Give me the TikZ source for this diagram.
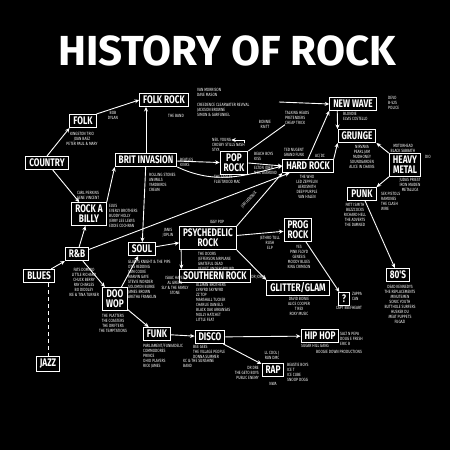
\documentclass[tikz,border=0pt]{standalone}
\usepackage{fontspec}
\newfontfamily\hand[FakeStretch=0.75]{Fira Sans}
\newfontfamily\handwide{Fira Sans}
\usetikzlibrary{arrows.meta}

\begin{document}
\begin{tikzpicture}[x=1pt,y=-1pt,
   genre/.style={draw=white,line width=1pt,fill=black,text=white,align=center,
      inner xsep=3.5pt,inner ysep=2.5pt,font=\hand\bfseries\fontsize{11}{10}\selectfont},
   bands/.style={text=white,inner sep=0pt,align=left,
      font=\hand\fontsize{4.6}{5}\selectfont},
   cbands/.style={bands,align=center},
   rbands/.style={bands,align=right},
   link/.style={draw=white,line width=0.9pt},
   arrow/.style={link,-{Stealth[length=4.5pt,width=4pt]}},
   dashlink/.style={link,dash pattern=on 4pt off 3pt}
]
   \fill[black] (0,0) rectangle (450,450);
   \useasboundingbox (0,0) rectangle (450,450);

   \node[text=white,font=\handwide\bfseries\fontsize{42}{42}\selectfont] (title) at (227,51) {HISTORY OF ROCK};

   % genres
   \node[genre] (folk) at (83,121) {FOLK};
   \node[genre] (folkrock) at (164,100) {FOLK ROCK};
   \node[genre] (newwave) at (353,104) {NEW WAVE};
   \node[genre] (country) at (47,163) {COUNTRY};
   \node[genre] (brit) at (146,160) {BRIT INVASION};
   \node[genre] (poprock) at (234,163) {POP\\ROCK};
   \node[genre] (grunge) at (357,136) {GRUNGE};
   \node[genre] (metal) at (405,165) {HEAVY\\METAL};
   \node[genre] (hardrock) at (308,166) {HARD ROCK};
   \node[genre] (rockabilly) at (89,214) {ROCK A\\BILLY};
   \node[genre] (rnb) at (77,254) {R\&B};
   \node[genre] (blues) at (39,276) {BLUES};
   \node[genre] (soul) at (142,249) {SOUL};
   \node[genre] (doowop) at (115,299) {DOO\\WOP};
   \node[genre] (psych) at (208,238) {PSYCHEDELIC\\ROCK};
   \node[genre] (southern) at (215,276) {SOUTHERN ROCK};
   \node[genre] (prog) at (298,230) {PROG\\ROCK};
   \node[genre] (glam) at (298,288) {GLITTER/GLAM};
   \node[genre] (punk) at (362,194) {PUNK};
   \node[genre] (eighties) at (398,275) {80'S};
   \node[genre] (mystery) at (344,299) {?};
   \node[genre] (jazz) at (48,364) {JAZZ};
   \node[genre] (funk) at (157,334) {FUNK};
   \node[genre] (disco) at (210,337) {DISCO};
   \node[genre] (rap) at (273,370) {RAP};
   \node[genre] (hiphop) at (320,336) {HIP HOP};

   % bands
   \node[cbands,anchor=north] (folkb) at (82,132) {KINGSTON TRIO\\JOAN BAEZ\\PETER PAUL \& MARY};
   \node[cbands] (dylan) at (113,115) {BOB\\DYLAN};
   \node[bands,anchor=west] (folkrockr) at (197,92) {VAN MORRISON\\DAVE MASON};
   \node[bands,anchor=north west] (folkrockb) at (197,103) {CREEDENCE CLEARWATER REVIVAL\\JACKSON BROWNE\\SIMON \& GARFUNKEL};
   \node[bands] (theband) at (176,116) {THE BAND};
   \node[bands,anchor=west] (newwaver) at (388,103) {DEVO\\B-52S\\POLICE};
   \node[bands,anchor=north west] (newwaveb) at (343,112) {BLONDIE\\ELVIS COSTELLO};
   \node[bands,anchor=north west] (talking) at (285,111) {TALKING HEADS\\PRETENDERS\\CHEAP TRICK};
   \node[cbands] (raitt) at (265,124) {BONNIE\\RAITT};
   \node[bands,anchor=west] (neil) at (212,140) {NEIL YOUNG};
   \node[bands,anchor=west] (csn) at (212,145) {CROSBY STILLS NASH};
   \node[bands,anchor=west] (styx) at (212,150) {STYX};
   \node[bands,anchor=north west] (poprockr) at (254,152) {BEACH BOYS\\KISS};
   \node[bands,anchor=north west] (poprockr2) at (254,166) {ELTON JOHN\\NEIL DIAMOND};
   \node[bands,anchor=north west] (poprockb) at (214,175) {THE EAGLES\\FLEETWOOD MAC};
   \node[cbands] (nugent) at (294,152) {TED NUGENT\\GRAND FUNK};
   \node[bands] (acdc) at (320,156) {AC/DC};
   \node[cbands,anchor=north] (hardrockb) at (307,175) {THE WHO\\LED ZEPPELIN\\AEROSMITH\\DEEP PURPLE\\VAN HALEN};
   \node[cbands,anchor=north] (grungeb) at (362,145) {NIRVANA\\PEARL JAM\\MUDHONEY\\SOUNDGARDEN\\ALICE IN CHAINS};
   \node[cbands] (metalt) at (403,148) {MOTORHEAD\\BLACK SABBATH};
   \node[bands] (dio) at (428,157) {DIO};
   \node[cbands,anchor=north] (metalb) at (410,178) {JUDAS PRIEST\\IRON MAIDEN\\METALLICA};
   \node[bands,anchor=north west] (punkr) at (381,192) {SEX PISTOLS\\RAMONES\\THE CLASH\\WIRE};
   \node[cbands,anchor=north] (punkb) at (355,203) {PATTI SMITH\\BUZZCOCKS\\RICHARD HELL\\THE ADVERTS\\THE DAMNED};
   \node[cbands,anchor=north] (eightiesb) at (400,285) {DEAD KENNEDYS\\THE REPLACEMENTS\\MINUTEMEN\\SONIC YOUTH\\BUTTHOLE SURFERS\\HUSKER DU\\MEAT PUPPETS\\FUGAZI};
   \node[bands,anchor=west] (zappa) at (352,296) {ZAPPA\\CAN};
   \node[bands] (beefheart) at (349,308) {CAPT BEEFHEART};
   \node[cbands,anchor=north] (progb) at (299,245) {YES\\PINK FLOYD\\GENESIS\\MOODY BLUES\\KING CRIMSON};
   \node[cbands] (tull) at (270,243) {JETHRO TULL\\RUSH\\ELP};
   \node[cbands,anchor=north] (glamb) at (299,297) {DAVID BOWIE\\ALICE COOPER\\T REX\\ROXY MUSIC};
   \node[bands,anchor=north west] (psychb) at (198,252) {THE DOORS\\JEFFERSON AIRPLANE\\GRATEFUL DEAD\\VELVET UNDERGROUND};
   \node[bands] (iggy) at (217,222) {IGGY POP};
   \node[bands,rotate=47] (hendrix) at (249,200) {JIMI HENDRIX};
   \node[bands] (drjohn) at (258,277) {DR JOHN};
   \node[bands,anchor=north west] (southernb) at (196,283) {ALLMAN BROTHERS\\LYNYRD SKYNYRD\\ZZ TOP\\MARSHALL TUCKER\\CHARLIE DANIELS\\BLACK OAK ARKANSAS\\MOLLY HATCHET\\LITTLE FEAT};
   \node[cbands,anchor=north] (soulr) at (175,276) {ISAAC HAYES\\AL GREEN\\SLY \& THE FAMILY\\STONE};
   \node[bands,anchor=north west] (soulb) at (128,260) {GLADYS KNIGHT \& THE PIPS\\OTIS REDDING\\SAM COOKE\\MARVIN GAYE\\STEVIE WONDER\\SOLOMON BURKE\\JAMES BROWN\\ARETHA FRANKLIN};
   \node[cbands] (joplin) at (168,233) {JANIS\\JOPLIN};
   \node[bands,anchor=west] (britr) at (180,162) {BEATLES\\KINKS};
   \node[bands,anchor=north west] (britb) at (149,173) {ROLLING STONES\\ANIMALS\\YARDBIRDS\\CREAM};
   \node[cbands] (perkins) at (88,195) {CARL PERKINS\\GENE VINCENT};
   \node[bands,anchor=north west] (rockabillyr) at (109,204) {ELVIS\\EVERLY BROTHERS\\BUDDY HOLLY\\JERRY LEE LEWIS\\EDDIE COCHRAN};
   \node[cbands,anchor=north] (rnbb) at (84,268) {FATS DOMINO\\LITTLE RICHARD\\CHUCK BERRY\\RAY CHARLES\\BO DIDDLEY\\IKE \& TINA TURNER};
   \node[cbands,anchor=north] (doowopb) at (113,314) {THE PLATTERS\\THE COASTERS\\THE DRIFTERS\\THE TEMPTATIONS};
   \node[bands,anchor=north west] (funkb) at (143,344) {PARLIAMENT/FUNKADELIC\\COMMODORES\\PRINCE\\OHIO PLAYERS\\RICK JAMES};
   \node[bands,anchor=north west] (discob) at (193,345) {BEE GEES\\THE VILLAGE PEOPLE\\DONNA SUMMER};
   \node[bands,anchor=north west] (kc) at (183,359) {KC \& THE SUNSHINE\\BAND};
   \node[cbands] (llcool) at (272,355) {LL COOL J\\RUN DMC};
   \node[rbands,anchor=north east] (rapl) at (259,366) {DR DRE\\THE GETO BOYS\\PUBLIC ENEMY};
   \node[bands] (nwa) at (273,384) {NWA};
   \node[bands,anchor=north west] (rapr) at (287,363) {BEASTIE BOYS\\ICE T\\ICE CUBE\\SNOOP DOGG};
   \node[bands,anchor=north west] (hiphopr) at (340,332) {SALT N PEPA\\DOUG E FRESH\\ERIC B};
   \node[bands] (sugarhill) at (315,346) {SUGAR HILL GANG};
   \node[bands] (boogie) at (339,352) {BOOGIE DOWN PRODUCTIONS};

   \coordinate (nwin) at (279,102);

   % connections
   \draw[arrow] (country.north) -- (folk.south west);
   \draw[arrow] (folk.north east) -- (folkrock.west);
   \draw[arrow] (brit.north) -- (brit.north |- folkrock.south);
   \draw[arrow] (rockabilly.north east) -- (brit.south west);
   \draw[arrow] (brit.south east) to[out=-25,in=195] (hardrock.west);
   \draw[arrow] (psych.north east) -- (hardrock.south west);
   \draw[arrow] (poprock.east) -- (hardrock.west);
   \draw[link] (poprock.north east) -- (talking.south west);
   \draw[arrow] (nwin) -- (newwave.west);
   \draw[arrow] (hardrock.north) -- (newwave.south west);
   \draw[arrow] ([xshift=8pt]newwave.south west) -- (grunge.north west);
   \draw[arrow] (hardrock.north east) -- (grunge.south west);
   \draw[arrow] (metal.north west) -- (grunge.south east);
   \draw[arrow] (metal.south west) -- (punk.north east);
   \draw[arrow] ([xshift=2pt]psych.south west) -- ([xshift=2pt]southern.north west);
   \draw[arrow] (psych.south east) -- (glam.north west);
   \draw[arrow] (csn.north east) |- (neil.east);
   \draw[dashlink] (blues.south -| jazz.north) -- (jazz.north);
   \foreach \a/\b in {country/rockabilly,rnb/rockabilly,blues/rnb,rnb/doowop,
      doowop/soul,doowop/funk,funk/disco,disco/hiphop,disco/rap,brit/soul,
      brit/poprock,rnb/hardrock,soul/psych,psych/prog,punk/eighties,prog/mystery}
      \draw[arrow] (\a) -- (\b);
\end{tikzpicture}
\end{document}
